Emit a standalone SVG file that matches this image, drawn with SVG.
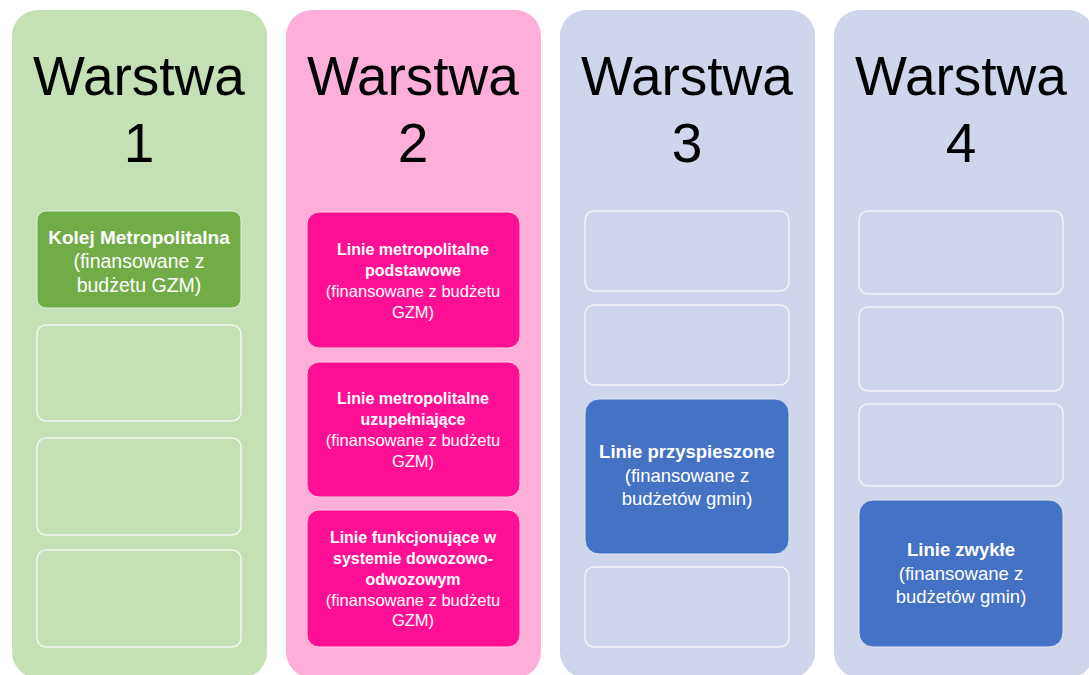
<svg xmlns="http://www.w3.org/2000/svg" width="1089" height="675" viewBox="0 0 1089 675">
<style>
.title{font-family:"Liberation Sans",Arial,sans-serif;font-size:55px;fill:#000;text-anchor:middle}
.t{font-family:"Liberation Sans",Arial,sans-serif;fill:#fff;text-anchor:middle}
.b1{font-size:19px;font-weight:bold}
.n1{font-size:19.5px}
.b3{font-size:18.5px;font-weight:bold}
.n3{font-size:18.5px}
.b2{font-size:16px;font-weight:bold}
.n2{font-size:16.5px}
.empty{stroke:#f4f4f4;stroke-width:1.5}
</style>
<rect width="1089" height="675" fill="#fff"/>
<g id="warstwa1">
<rect x="12" y="10" width="255" height="668" rx="26" fill="#c5e0b4"/>
<text class="title" x="139" y="95">Warstwa</text>
<text class="title" x="139" y="162">1</text>
</g>
<g id="warstwa2">
<rect x="286" y="10" width="255" height="668" rx="26" fill="#fdafd9"/>
<text class="title" x="413" y="95">Warstwa</text>
<text class="title" x="413" y="162">2</text>
</g>
<g id="warstwa3">
<rect x="560" y="10" width="255" height="668" rx="26" fill="#cfd5ea"/>
<text class="title" x="687" y="95">Warstwa</text>
<text class="title" x="687" y="162">3</text>
</g>
<g id="warstwa4">
<rect x="834" y="10" width="260" height="668" rx="26" fill="#cfd5ea"/>
<text class="title" x="961" y="95">Warstwa</text>
<text class="title" x="961" y="162">4</text>
</g>
<g id="kolej">
<rect x="37" y="211" width="204" height="97" rx="9" fill="#70ad47" stroke="#e2efd9" stroke-width="1"/>
<text class="t b1" x="139" y="244">Kolej Metropolitalna</text>
<text class="t n1" x="139" y="268">(finansowane z</text>
<text class="t n1" x="139" y="292">budżetu GZM)</text>
</g>
<g id="w1-empty">
<rect class="empty" x="37" y="325" width="204" height="96" rx="9" fill="#c5e0b4"/>
<rect class="empty" x="37" y="438" width="204" height="97" rx="9" fill="#c5e0b4"/>
<rect class="empty" x="37" y="550" width="204" height="97" rx="9" fill="#c5e0b4"/>
</g>
<g id="podstawowe">
<rect x="307" y="212" width="213" height="136" rx="12" fill="#ff0f93" stroke="#ffd0e8" stroke-width="1"/>
<text class="t b2" x="413" y="255">Linie metropolitalne</text>
<text class="t b2" x="413" y="276">podstawowe</text>
<text class="t n2" x="413" y="297">(finansowane z budżetu</text>
<text class="t n2" x="413" y="318">GZM)</text>
</g>
<g id="uzupelniajace">
<rect x="307" y="362" width="213" height="135" rx="12" fill="#ff0f93" stroke="#ffd0e8" stroke-width="1"/>
<text class="t b2" x="413" y="404">Linie metropolitalne</text>
<text class="t b2" x="413" y="425">uzupełniające</text>
<text class="t n2" x="413" y="446">(finansowane z budżetu</text>
<text class="t n2" x="413" y="467">GZM)</text>
</g>
<g id="dowozowe">
<rect x="307" y="510" width="213" height="137" rx="12" fill="#ff0f93" stroke="#ffd0e8" stroke-width="1"/>
<text class="t b2" x="413" y="543">Linie funkcjonujące w</text>
<text class="t b2" x="413" y="564">systemie dowozowo-</text>
<text class="t b2" x="413" y="585">odwozowym</text>
<text class="t n2" x="413" y="606">(finansowane z budżetu</text>
<text class="t n2" x="413" y="626">GZM)</text>
</g>
<g id="w3-empty">
<rect class="empty" x="585" y="211" width="204" height="80" rx="9" fill="#cfd5ea"/>
<rect class="empty" x="585" y="305" width="204" height="80" rx="9" fill="#cfd5ea"/>
<rect class="empty" x="585" y="567" width="204" height="80" rx="9" fill="#cfd5ea"/>
</g>
<g id="przyspieszone">
<rect x="585" y="399" width="204" height="155" rx="14" fill="#4472c4" stroke="#dfe5f3" stroke-width="1"/>
<text class="t b3" x="687" y="458">Linie przyspieszone</text>
<text class="t n3" x="687" y="482">(finansowane z</text>
<text class="t n3" x="687" y="505">budżetów gmin)</text>
</g>
<g id="w4-empty">
<rect class="empty" x="859" y="211" width="204" height="83" rx="9" fill="#cfd5ea"/>
<rect class="empty" x="859" y="307" width="204" height="84" rx="9" fill="#cfd5ea"/>
<rect class="empty" x="859" y="404" width="204" height="82" rx="9" fill="#cfd5ea"/>
</g>
<g id="zwykle">
<rect x="859" y="500" width="204" height="147" rx="14" fill="#4472c4" stroke="#dfe5f3" stroke-width="1"/>
<text class="t b3" x="961" y="556">Linie zwykłe</text>
<text class="t n3" x="961" y="580">(finansowane z</text>
<text class="t n3" x="961" y="603">budżetów gmin)</text>
</g>
<g id="connectors"></g>
</svg>
